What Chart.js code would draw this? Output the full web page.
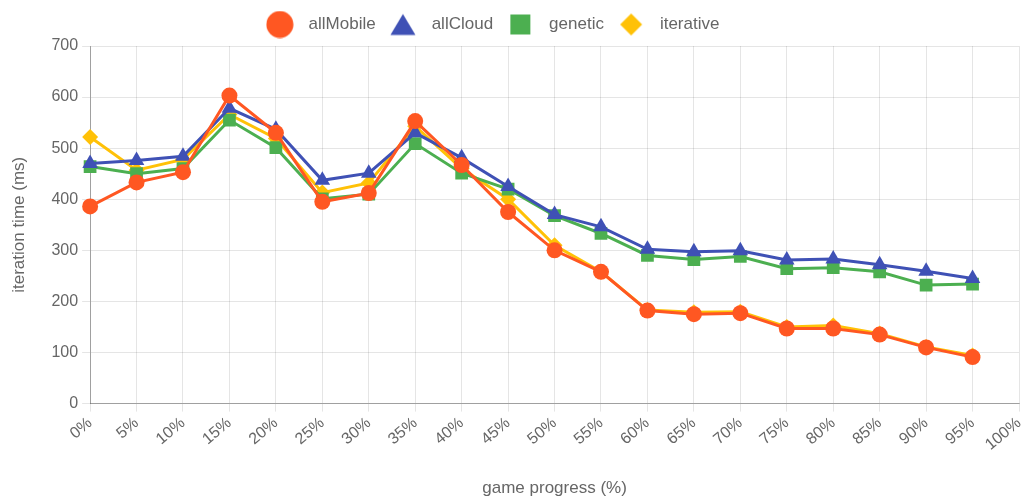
<!DOCTYPE html>
<html>
<head>
<meta charset="utf-8">
<title>iteration time</title>
<script src="https://cdn.jsdelivr.net/npm/chart.js"></script>
<style>
  html, body { margin: 0; padding: 0; background: #fff; }
  #wrap { width: 1028px; height: 499px; position: relative; }
</style>
</head>
<body>
<div id="wrap"><canvas id="timeChart"></canvas></div>
<script>
// x labels (game progress)
const progressLabels = ['0%', '5%', '10%', '15%', '20%', '25%', '30%', '35%', '40%', '45%',
  '50%', '55%', '60%', '65%', '70%', '75%', '80%', '85%', '90%', '95%', '100%'];

// iteration time (ms) per strategy
const allMobile = [386, 433, 453, 603, 530, 395, 412, 553, 467, 375, 300, 258, 182, 175, 177, 147, 147, 135, 110, 91];
const allCloud = [470, 476, 484, 578, 537, 437, 451, 530, 481, 425, 370, 346, 302, 297, 299, 281, 283, 272, 259, 245];
const genetic = [464, 450, 460, 555, 501, 401, 410, 509, 451, 420, 368, 333, 290, 282, 288, 264, 266, 258, 232, 234];
const iterative = [522, 457, 478, 566, 519, 413, 432, 543, 460, 400, 310, 258, 183, 179, 180, 150, 153, 137, 111, 94];

const yTicks = [0, 100, 200, 300, 400, 500, 600, 700];

const colors = {
  allMobile: '#FF5722',
  allCloud: '#3F51B5',
  genetic: '#4CAF50',
  iterative: '#FFC107'
};

Chart.defaults.font.family = "'Helvetica Neue', Helvetica, Arial, 'Liberation Sans', sans-serif";
Chart.defaults.font.size = 16;
Chart.defaults.color = '#666';

// bigger legend markers than the library allows by default
function legendMarker(style, color) {
  const c = document.createElement('canvas');
  c.width = 28; c.height = 28;
  const ctx = c.getContext('2d');
  ctx.fillStyle = color;
  ctx.beginPath();
  if (style === 'circle') {
    ctx.arc(14, 14, 13.5, 0, Math.PI * 2);
  } else if (style === 'triangle') {
    ctx.moveTo(14, 3.5);
    ctx.lineTo(26.5, 24.5);
    ctx.lineTo(1.5, 24.5);
    ctx.closePath();
  } else if (style === 'rect') {
    ctx.rect(4, 4, 20, 20);
  } else {
    ctx.moveTo(14, 3);
    ctx.lineTo(25, 14);
    ctx.lineTo(14, 25);
    ctx.lineTo(3, 14);
    ctx.closePath();
  }
  ctx.fill();
  return c;
}

function makeSeries(label, data, style, radius) {
  const color = colors[label];
  return {
    label: label,
    data: data,
    borderColor: color,
    backgroundColor: color,
    borderWidth: 3,
    pointStyle: style,
    pointRadius: radius,
    pointHoverRadius: radius,
    pointBorderWidth: 0,
    fill: false,
    tension: 0,
    legendIcon: legendMarker(style, color)
  };
}

// legend in the original sits a bit left of centre, with a bit more room below it
const legendTweak = {
  id: 'legendTweak',
  afterInit(chart) {
    const lg = chart.legend;
    if (!lg) return;
    const fit = lg.fit;
    lg.fit = function() {
      fit.call(this);
      this.height += 3;
    };
  },
  afterLayout(chart) {
    if (chart.legend && chart.legend.lineWidths) {
      chart.legend.lineWidths[0] += 58;
    }
  }
};

const ctx = document.getElementById('timeChart');
new Chart(ctx, {
  type: 'line',
  data: {
    labels: progressLabels,
    datasets: [
      makeSeries('allMobile', allMobile, 'circle', 8),
      makeSeries('allCloud', allCloud, 'triangle', 9),
      makeSeries('genetic', genetic, 'rect', 9),
      makeSeries('iterative', iterative, 'rectRot', 8)
    ]
  },
  plugins: [legendTweak],
  options: {
    responsive: true,
    maintainAspectRatio: false,
    animation: false,
    layout: {
      padding: { top: 9, right: 0, bottom: 0, left: 9 }
    },
    plugins: {
      legend: {
        position: 'top',
        labels: {
          usePointStyle: true,
          pointStyleWidth: 40.5,
          padding: 7,
          color: '#666',
          font: { size: 17 },
          generateLabels: function(chart) {
            const items = Chart.defaults.plugins.legend.labels.generateLabels(chart);
            items.forEach(item => {
              item.pointStyle = chart.data.datasets[item.datasetIndex].legendIcon;
            });
            return items;
          }
        }
      },
      tooltip: { enabled: false }
    },
    scales: {
      x: {
        offset: false,
        afterFit: function(axis) {
          axis.paddingRight = 3;
        },
        grid: {
          color: 'rgba(0, 0, 0, 0.1)',
          tickLength: 8
        },
        border: { color: 'rgba(0, 0, 0, 0.3)' },
        ticks: {
          minRotation: 40,
          maxRotation: 40,
          autoSkip: false,
          padding: 2
        },
        title: {
          display: true,
          text: 'game progress (%)',
          font: { size: 17 },
          padding: { top: 22, bottom: 0 }
        }
      },
      y: {
        min: 0,
        max: 700,
        afterBuildTicks: function(axis) {
          axis.ticks = yTicks.map(v => ({ value: v }));
        },
        grid: {
          color: 'rgba(0, 0, 0, 0.1)',
          tickLength: 8
        },
        border: { color: 'rgba(0, 0, 0, 0.3)' },
        ticks: { padding: 4 },
        title: {
          display: true,
          text: 'iteration time (ms)',
          font: { size: 17 },
          padding: { top: 0, bottom: 18 }
        }
      }
    }
  }
});
</script>
</body>
</html>
